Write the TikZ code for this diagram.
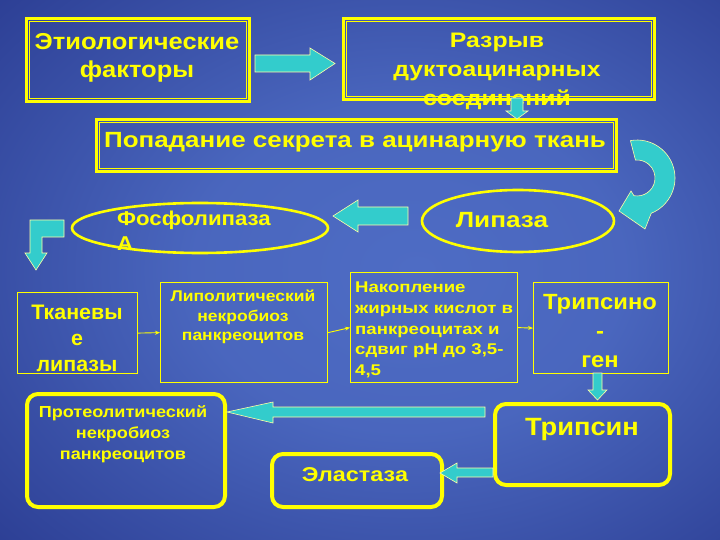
\documentclass[tikz,border=0pt]{standalone}
\usepackage{fontspec}
\setmainfont{Liberation Sans}
\usetikzlibrary{arrows.meta,shapes.geometric}
\definecolor{ylw}{RGB}{255,255,0}
\definecolor{cya}{RGB}{51,204,204}
\definecolor{bgin}{RGB}{78,108,196}
\definecolor{bgmid}{RGB}{35,50,135}
\definecolor{bgout}{RGB}{16,22,82}
\pgfdeclareradialshading{bgshade}{\pgfpoint{4bp}{0bp}}{color(0bp)=(bgin); color(15bp)=(bgin!90!bgmid); color(45bp)=(bgmid); color(68bp)=(bgout); color(100bp)=(bgout)}
\newcommand{\fsz}[3]{\fontsize{#1}{#2}\selectfont\addfontfeature{FakeStretch=#3}}
\begin{document}
\begin{tikzpicture}[x=1pt,y=-1pt,
  txt/.style={text=ylw, font=\bfseries, align=center, inner sep=0pt},
  dblbox/.style={draw=ylw, line width=2.6pt, inner sep=0pt, anchor=north west},
  thinbox/.style={draw=ylw, line width=1.2pt, inner sep=0pt, anchor=north west},
  rbox/.style={draw=ylw, line width=4pt, rounded corners=11pt, inner sep=0pt, anchor=north west},
  oval/.style={draw=ylw, line width=2.6pt, ellipse, inner sep=0pt},
  blk/.style={fill=cya, draw=ylw!35!white, line width=0.6pt},
  thinarr/.style={draw=ylw, line width=0.9pt, -{Stealth[length=5pt,width=4pt]}}]
\shade[shading=bgshade] (0,0) rectangle (720,540);
\useasboundingbox (0,0) rectangle (720,540);

% top boxes
\node[dblbox, minimum width=223pt, minimum height=83pt] (etio) at (25,17) {};
\draw[ylw, line width=0.9pt] ([shift={(4,4)}]etio.north west) rectangle ([shift={(-4,-4)}]etio.south east);
\node[txt, font=\bfseries\fsz{23}{28}{1.11}] (etiot) at (137,58) {Этиологические\\факторы};

\node[dblbox, minimum width=311pt, minimum height=81pt] (razr) at (342,17) {};
\draw[ylw, line width=0.9pt] ([shift={(4,4)}]razr.north west) rectangle ([shift={(-4,-4)}]razr.south east);
\node[txt, font=\bfseries\fsz{21}{29}{1.18}] (razrt) at (497,71) {Разрыв\\дуктоацинарных\\соединений};

\node[dblbox, minimum width=520pt, minimum height=52pt] (popad) at (95,118) {};
\draw[ylw, line width=0.9pt] ([shift={(4,4)}]popad.north west) rectangle ([shift={(-4,-4)}]popad.south east);
\node[txt, font=\bfseries\fsz{22}{26}{1.18}] (popadt) at (355,142) {Попадание секрета в ацинарную ткань};

% block arrows top
\draw[blk] (255,55) -- (310,55) -- (310,48) -- (335,63.5) -- (310,80) -- (310,72) -- (255,72) -- cycle;
\draw[blk] (511,98) -- (523,98) -- (523,111) -- (528,111) -- (517,119) -- (506,111) -- (511,111) -- cycle;

% curved arrow
\draw[blk] (630.4,140.6) arc[start angle=-100, end angle=68, radius=38] -- (645,229) -- (619,211) -- (631,191) -- (633.9,195.7) arc[start angle=100, end angle=-95, radius=18] -- cycle;

% ellipses
\node[oval, minimum width=256pt, minimum height=50pt] (phos) at (200,228) {};
\node[txt, anchor=west, align=left, font=\bfseries\fsz{20}{25}{1.11}] (phost) at (117,231) {Фосфолипаза\\А};
\node[oval, minimum width=192pt, minimum height=62pt] (lipa) at (518,221) {};
\node[txt, font=\bfseries\fsz{22}{26}{1.19}] (lipat) at (502,220) {Липаза};

\draw[blk] (408,207) -- (358,207) -- (358,200) -- (333,216) -- (358,232) -- (358,225) -- (408,225) -- cycle;
\draw[blk] (64,220) -- (30,220) -- (30,253) -- (25,253) -- (36,270) -- (47,253) -- (42,253) -- (42,237) -- (64,237) -- cycle;

% middle row
\node[thinbox, minimum width=120pt, minimum height=81pt] (tkan) at (17,292) {};
\node[txt, font=\bfseries\fsz{21}{26}{1.02}] (tkant) at (77,338) {Тканевы\\е\\липазы};

\node[thinbox, minimum width=167pt, minimum height=100pt] (lipo) at (160,282) {};
\node[txt, font=\bfseries\fsz{15.5}{19.5}{1.13}] (lipot) at (243,317) {Липолитический\\некробиоз\\панкреоцитов};

\node[thinbox, minimum width=167pt, minimum height=110pt] (nako) at (350,272) {};
\node[txt, anchor=west, align=left, font=\bfseries\fsz{15.5}{20.7}{1.2}] (nakot) at (355,330) {Накопление\\жирных кислот в\\панкреоцитах и\\сдвиг pH до 3,5-\\4,5};

\node[thinbox, minimum width=135pt, minimum height=91pt] (tgen) at (533,282) {};
\node[txt, font=\bfseries\fsz{22}{29}{1.08}] (tgent) at (600,331) {Трипсино\\-\\ген};

\draw[thinarr] (tkan.east) -- (lipo.west);
\draw[thinarr] (lipo.east) -- (nako.west);
\draw[thinarr] (nako.east) -- (tgen.west);

% bottom row
\node[rbox, minimum width=175pt, minimum height=81pt] (trip) at (493,402) {};
\node[txt, font=\bfseries\fsz{25}{28}{1.09}] (tript) at (582,429) {Трипсин};

\node[rbox, minimum width=198pt, minimum height=113pt] (prot) at (25,392) {};
\node[txt, font=\bfseries\fsz{16}{21}{1.13}] (prott) at (123,434) {Протеолитический\\некробиоз\\панкреоцитов};

\node[rbox, minimum width=170pt, minimum height=53pt] (elas) at (270,452) {};
\node[txt, font=\bfseries\fsz{20}{24}{1.17}] (elast) at (355,475) {Эластаза};

\draw[blk] (593,373) -- (602,373) -- (602,390) -- (607,390) -- (597.5,400) -- (588,390) -- (593,390) -- cycle;
\draw[blk] (485,407) -- (273,407) -- (273,402) -- (227,412) -- (273,423) -- (273,417) -- (485,417) -- cycle;
\draw[blk] (493,468) -- (457,468) -- (457,463) -- (440,473) -- (457,483) -- (457,477) -- (493,477) -- cycle;
\end{tikzpicture}
\end{document}
